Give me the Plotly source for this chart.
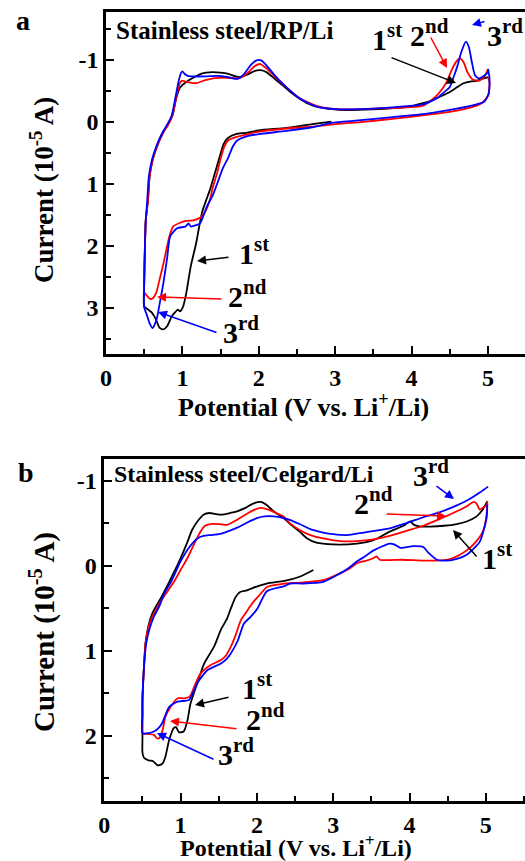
import plotly.graph_objects as go

# ---------------- data: panel a (Stainless steel/RP/Li) ----------------
a1_v = [2.95, 2.7, 2.36, 2.0, 1.83, 1.70, 1.60, 1.54, 1.48, 1.42, 1.36, 1.31, 1.26, 1.22, 1.18, 1.11, 1.05, 1.01,
        0.97, 0.94, 0.90, 0.86, 0.80, 0.75, 0.70, 0.65, 0.60, 0.55, 0.50,
        0.50, 0.51, 0.52, 0.55, 0.57, 0.61, 0.65, 0.70, 0.76, 0.81, 0.87, 0.92, 0.97, 1.05, 1.13, 1.22, 1.31, 1.40,
        1.50, 1.60, 1.74, 1.85, 1.95, 2.02, 2.10, 2.20, 2.30, 2.41, 2.52, 2.63, 2.80, 3.06, 3.50, 3.94, 4.15, 4.28,
        4.40, 4.50, 4.60, 4.68, 4.78, 4.85, 4.92, 5.00]
a1_i = [0.00, 0.04, 0.10, 0.14, 0.18, 0.20, 0.26, 0.36, 0.60, 0.85, 1.10, 1.27, 1.45, 1.69, 1.96, 2.33, 2.77, 2.98,
        3.06, 3.03, 3.08, 3.14, 3.30, 3.35, 3.32, 3.18, 3.08, 3.03, 2.98,
        2.60, 2.00, 1.60, 1.26, 0.89, 0.62, 0.46, 0.30, 0.15, 0.05, -0.10, -0.38, -0.55, -0.64, -0.70, -0.76, -0.79, -0.80,
        -0.79, -0.77, -0.72, -0.76, -0.82, -0.83, -0.80, -0.70, -0.60, -0.48, -0.38, -0.30, -0.23, -0.19, -0.20, -0.24, -0.30, -0.35,
        -0.42, -0.48, -0.56, -0.62, -0.65, -0.66, -0.69, -0.72]

a2_v = [5.00, 5.02, 5.00, 4.92, 4.85, 4.59, 4.20, 3.72, 3.30, 3.00, 2.70, 2.36, 2.00, 1.83, 1.70, 1.60, 1.55, 1.50,
        1.45, 1.40, 1.36, 1.30, 1.23, 1.14, 1.05, 0.97, 0.88, 0.83, 0.79, 0.75, 0.71, 0.66, 0.62, 0.58, 0.53, 0.50,
        0.50, 0.51, 0.52, 0.55, 0.57, 0.61, 0.65, 0.70, 0.76, 0.81, 0.87, 0.92, 0.96, 0.99, 1.03, 1.10, 1.18, 1.30,
        1.40, 1.55, 1.74, 1.85, 1.95, 2.02, 2.10, 2.20, 2.30, 2.41, 2.52, 2.63, 2.80, 3.06, 3.50, 3.94, 4.15, 4.24,
        4.35, 4.45, 4.52, 4.58, 4.63, 4.68, 4.73, 4.80, 4.88, 4.95, 5.00]
a2_i = [-0.72, -0.62, -0.42, -0.30, -0.26, -0.18, -0.11, -0.04, 0.01, 0.04, 0.08, 0.11, 0.16, 0.21, 0.25, 0.30, 0.40, 0.60,
        0.85, 1.05, 1.26, 1.45, 1.55, 1.59, 1.60, 1.63, 1.69, 1.85, 2.07, 2.30, 2.50, 2.75, 2.84, 2.86, 2.80, 2.75,
        2.50, 2.00, 1.60, 1.26, 0.89, 0.62, 0.46, 0.30, 0.15, 0.06, -0.10, -0.40, -0.60, -0.66, -0.65, -0.63, -0.62, -0.67,
        -0.70, -0.71, -0.70, -0.78, -0.90, -0.93, -0.86, -0.74, -0.62, -0.50, -0.39, -0.32, -0.24, -0.20, -0.21, -0.23, -0.26, -0.33,
        -0.45, -0.62, -0.82, -0.96, -1.02, -0.96, -0.80, -0.68, -0.66, -0.72, -0.85]

a3_v = [5.00, 5.02, 5.01, 4.95, 4.85, 4.59, 4.20, 3.72, 3.30, 2.95, 2.70, 2.36, 2.00, 1.83, 1.72, 1.66, 1.60, 1.53,
        1.47, 1.40, 1.32, 1.23, 1.15, 1.11, 1.08, 1.04, 0.93, 0.84, 0.80, 0.75, 0.70, 0.66, 0.61, 0.57, 0.53, 0.50,
        0.50, 0.51, 0.52, 0.54, 0.56, 0.60, 0.64, 0.69, 0.75, 0.80, 0.86, 0.91, 0.95, 0.98, 1.00, 1.03, 1.07, 1.15,
        1.30, 1.45, 1.60, 1.72, 1.80, 1.90, 1.97, 2.03, 2.10, 2.20, 2.30, 2.41, 2.52, 2.63, 2.80, 3.06, 3.50, 3.94,
        4.15, 4.33, 4.43, 4.50, 4.55, 4.60, 4.65, 4.71, 4.75, 4.79, 4.83, 4.88, 4.95, 5.00]
a3_i = [-0.85, -0.70, -0.45, -0.32, -0.28, -0.21, -0.13, -0.07, -0.02, 0.02, 0.09, 0.15, 0.20, 0.24, 0.30, 0.40, 0.58, 0.75,
        0.95, 1.18, 1.37, 1.64, 1.68, 1.69, 1.64, 1.69, 1.72, 1.85, 2.20, 2.61, 2.95, 3.20, 3.33, 3.25, 3.10, 3.00,
        2.60, 2.00, 1.60, 1.26, 0.89, 0.62, 0.46, 0.30, 0.15, 0.05, -0.10, -0.40, -0.65, -0.78, -0.81, -0.77, -0.74, -0.73,
        -0.73, -0.74, -0.72, -0.69, -0.76, -0.92, -0.99, -0.99, -0.91, -0.76, -0.63, -0.50, -0.39, -0.31, -0.23, -0.20, -0.21, -0.25,
        -0.28, -0.38, -0.48, -0.56, -0.72, -0.90, -1.12, -1.29, -1.20, -0.95, -0.75, -0.70, -0.74, -0.80]

# ---------------- data: panel b (Stainless steel/Celgard/Li) ----------------
b1_v = [2.74, 2.56, 2.36, 2.13, 1.95, 1.87, 1.78, 1.72, 1.66, 1.61, 1.53, 1.44, 1.31, 1.22, 1.13, 1.09, 1.04, 0.98,
        0.94, 0.91, 0.85, 0.80, 0.76, 0.70, 0.64, 0.58, 0.52, 0.50, 0.50,
        0.50, 0.50, 0.52, 0.54, 0.58, 0.63, 0.69, 0.76, 0.83, 0.90, 0.96, 1.03, 1.09, 1.15, 1.22, 1.30, 1.38, 1.45,
        1.53, 1.65, 1.74, 1.85, 1.95, 2.05, 2.12, 2.22, 2.35, 2.45, 2.56, 2.66, 2.78, 3.00, 3.31, 3.53, 3.74, 3.92,
        4.01, 4.06, 4.15, 4.27, 4.45, 4.62, 4.75, 4.88, 4.96, 5.02]
b1_i = [0.05, 0.13, 0.18, 0.21, 0.26, 0.29, 0.31, 0.37, 0.50, 0.62, 0.75, 0.95, 1.15, 1.38, 1.62, 1.82, 1.95, 1.96,
        1.90, 1.91, 2.05, 2.25, 2.33, 2.35, 2.30, 2.29, 2.26, 2.20, 2.05,
        1.80, 1.58, 1.19, 0.91, 0.70, 0.56, 0.46, 0.35, 0.23, 0.10, -0.01, -0.15, -0.28, -0.42, -0.52, -0.60, -0.62, -0.61,
        -0.60, -0.62, -0.64, -0.68, -0.73, -0.75, -0.72, -0.64, -0.56, -0.48, -0.40, -0.32, -0.27, -0.25, -0.26, -0.30, -0.40, -0.47,
        -0.52, -0.48, -0.46, -0.46, -0.47, -0.49, -0.52, -0.58, -0.66, -0.76]

b2_v = [5.02, 5.01, 4.97, 4.87, 4.75, 4.62, 4.50, 4.36, 4.18, 3.90, 3.61, 3.57, 3.53, 3.44, 3.31, 3.22, 3.09, 2.87,
        2.56, 2.36, 2.13, 2.05, 1.96, 1.91, 1.85, 1.79, 1.72, 1.66, 1.60, 1.53, 1.39, 1.26, 1.18, 1.12, 1.05, 0.96,
        0.87, 0.80, 0.76, 0.72, 0.69, 0.65, 0.58, 0.50,
        0.50, 0.50, 0.52, 0.54, 0.58, 0.63, 0.68, 0.74, 0.83, 0.92, 1.00, 1.09, 1.18, 1.26, 1.32, 1.39, 1.50, 1.61,
        1.72, 1.85, 1.95, 2.05, 2.15, 2.25, 2.35, 2.43, 2.56, 2.70, 2.87, 3.09, 3.31, 3.53, 3.74, 3.96, 4.18, 4.40,
        4.62, 4.75, 4.84, 4.88, 4.92, 4.96, 5.02]
b2_i = [-0.76, -0.60, -0.42, -0.28, -0.18, -0.11, -0.07, -0.06, -0.06, -0.07, -0.07, -0.11, -0.09, -0.06, -0.03, 0.03, 0.09, 0.17,
        0.20, 0.21, 0.25, 0.33, 0.42, 0.48, 0.56, 0.64, 0.82, 0.95, 1.05, 1.11, 1.17, 1.27, 1.42, 1.54, 1.56, 1.56,
        1.66, 1.78, 1.95, 2.03, 2.03, 1.99, 1.98, 1.97,
        1.75, 1.58, 1.19, 0.91, 0.72, 0.60, 0.52, 0.42, 0.30, 0.18, 0.05, -0.09, -0.26, -0.40, -0.47, -0.49, -0.49, -0.48,
        -0.53, -0.60, -0.65, -0.68, -0.66, -0.62, -0.58, -0.50, -0.42, -0.36, -0.32, -0.29, -0.29, -0.31, -0.35, -0.41, -0.47, -0.55,
        -0.64, -0.70, -0.75, -0.73, -0.66, -0.68, -0.72]

b3_v = [5.02, 5.01, 4.92, 4.75, 4.62, 4.49, 4.36, 4.25, 4.18, 4.05, 3.88, 3.80, 3.74, 3.53, 3.40, 3.31, 3.20, 3.09,
        2.87, 2.60, 2.43, 2.36, 2.13, 2.01, 1.92, 1.83, 1.75, 1.66, 1.60, 1.53, 1.35, 1.22, 1.15, 1.11, 0.96, 0.85,
        0.80, 0.76, 0.70, 0.65, 0.58, 0.50,
        0.50, 0.50, 0.52, 0.55, 0.59, 0.65, 0.72, 0.78, 0.88, 1.00, 1.10, 1.22, 1.30, 1.39, 1.50, 1.61, 1.75, 1.90,
        2.00, 2.10, 2.22, 2.35, 2.43, 2.56, 2.70, 2.87, 3.00, 3.18, 3.40, 3.74, 3.96, 4.18, 4.40, 4.62, 4.80, 4.92, 5.03]
b3_i = [-0.72, -0.56, -0.28, -0.13, -0.08, -0.06, -0.07, -0.15, -0.22, -0.23, -0.21, -0.25, -0.26, -0.18, -0.10, -0.05, 0.03, 0.09,
        0.19, 0.21, 0.21, 0.24, 0.30, 0.50, 0.60, 0.68, 0.88, 1.03, 1.10, 1.15, 1.23, 1.38, 1.52, 1.58, 1.60, 1.66,
        1.76, 1.85, 1.92, 1.95, 1.97, 1.97,
        1.75, 1.58, 1.19, 0.91, 0.75, 0.60, 0.48, 0.34, 0.18, -0.05, -0.20, -0.32, -0.35, -0.36, -0.37, -0.40, -0.45, -0.52,
        -0.56, -0.58, -0.58, -0.56, -0.54, -0.49, -0.43, -0.39, -0.37, -0.36, -0.39, -0.44, -0.50, -0.57, -0.63, -0.71, -0.79, -0.86, -0.93]

x_ticks = [0, 1, 2, 3, 4, 5]
x_labels = ["0", "1", "2", "3", "4", "5"]
ya_ticks = [-1, 0, 1, 2, 3]
ya_labels = ["-1", "0", "1", "2", "3"]
yb_ticks = [-1, 0, 1, 2]
yb_labels = ["-1", "0", "1", "2"]

cycle_colors = ["#000000", "#ff0000", "#0000ff"]

# ---------------- figure ----------------
W, H = 525, 861
FONT = "Liberation Serif"


def px(x):
    return x / W


def py(y):
    return 1 - y / H


fig = go.Figure()
for (v, i), c in zip([(a1_v, a1_i), (a2_v, a2_i), (a3_v, a3_i)], cycle_colors):
    fig.add_trace(go.Scatter(x=v, y=i, mode="lines", line=dict(color=c, width=1.8, shape="spline", smoothing=0.6),
                             xaxis="x", yaxis="y", showlegend=False, hoverinfo="skip"))
for (v, i), c in zip([(b1_v, b1_i), (b2_v, b2_i), (b3_v, b3_i)], cycle_colors):
    fig.add_trace(go.Scatter(x=v, y=i, mode="lines", line=dict(color=c, width=1.8, shape="spline", smoothing=0.6),
                             xaxis="x2", yaxis="y2", showlegend=False, hoverinfo="skip"))

tickfont = dict(family=FONT, size=24, color="black", weight="bold")
common = dict(showline=True, linecolor="black", linewidth=2.5, ticks="inside", ticklen=8, tickwidth=2,
              tickcolor="black", showgrid=False, zeroline=False, tickfont=tickfont, automargin=False,
              minor=dict(ticks="inside", ticklen=5, tickwidth=2, tickcolor="black", dtick=0.5))

fig.update_layout(
    width=W, height=H, margin=dict(l=0, r=0, t=0, b=0),
    paper_bgcolor="white", plot_bgcolor="white",
    xaxis=dict(domain=[px(106), 1], range=[0, (W - 106) / 76.4], anchor="y", mirror=True,
               tickvals=x_ticks, ticktext=x_labels, **common),
    yaxis=dict(domain=[py(354), py(12)], range=[3.747, -1.769], anchor="x",
               tickvals=ya_ticks, ticktext=ya_labels, **common),
    xaxis2=dict(domain=[px(104.3), 1], range=[0, (W - 104.3) / 76.3], anchor="y2", mirror=True,
                tickvals=x_ticks, ticktext=x_labels, **common),
    yaxis2=dict(domain=[py(801), py(459)], range=[2.768, -1.255], anchor="x2",
                tickvals=yb_ticks, ticktext=yb_labels, **common),
)

ann = []


def text(x, y, s, size, xanchor="center", yanchor="middle", angle=0):
    ann.append(dict(x=px(x), y=py(y), xref="paper", yref="paper", text=s, showarrow=False,
                    xanchor=xanchor, yanchor=yanchor, textangle=angle,
                    font=dict(family=FONT, size=size, color="black", weight="bold")))


def arrow(tx, ty, hx, hy, color):
    ann.append(dict(x=px(hx), y=py(hy), xref="paper", yref="paper", ax=tx - hx, ay=ty - hy,
                    axref="pixel", ayref="pixel", text="", showarrow=True, arrowhead=2,
                    arrowsize=1.2, arrowwidth=1.5, arrowcolor=color))


# panel letters
text(23, 20, "a", 28)
text(26, 472, "b", 28)
# inside titles
text(114, 30, "Stainless steel/RP/Li", 25, xanchor="left")
text(112, 474, "Stainless steel/Celgard/Li", 24, xanchor="left")
# axis titles
text(303, 405, "Potential (V vs. Li<sup>+</sup>/Li)", 26)
text(296, 846, "Potential (V vs. Li<sup>+</sup>/Li)", 24)
text(42, 190, "Current (10<sup>-5</sup> A)", 27, angle=-90)
text(42, 632, "Current (10<sup>-5</sup> A)", 29, angle=-90)

# cycle labels panel a
text(387, 37, "1<sup>st</sup>", 30)
text(429, 33, "2<sup>nd</sup>", 30)
text(505, 33, "3<sup>rd</sup>", 30)
text(254, 251, "1<sup>st</sup>", 30)
text(247, 294, "2<sup>nd</sup>", 30)
text(241, 330, "3<sup>rd</sup>", 30)
arrow(390, 57, 456, 83, "black")
arrow(430, 36, 447, 68, "red")
arrow(486, 21, 472, 25, "blue")
arrow(230, 257, 197, 261, "black")
arrow(223, 299, 157, 297, "red")
arrow(218, 333, 158, 312, "blue")

# cycle labels panel b
text(431, 473, "3<sup>rd</sup>", 30)
text(373, 501, "2<sup>nd</sup>", 30)
text(497, 556, "1<sup>st</sup>", 30)
text(257, 686, "1<sup>st</sup>", 30)
text(265, 717, "2<sup>nd</sup>", 30)
text(236, 752, "3<sup>rd</sup>", 30)
arrow(435, 485, 454, 499, "blue")
arrow(385, 514, 446, 516, "red")
arrow(478, 558, 453, 530, "black")
arrow(230, 697, 195, 705, "black")
arrow(238, 729, 170, 721, "red")
arrow(215, 760, 157, 733, "blue")

fig.update_layout(annotations=ann)
fig.write_html("out.html", config={"displayModeBar": False},
               post_script="document.body.style.margin='0px';document.body.style.overflow='hidden';")
